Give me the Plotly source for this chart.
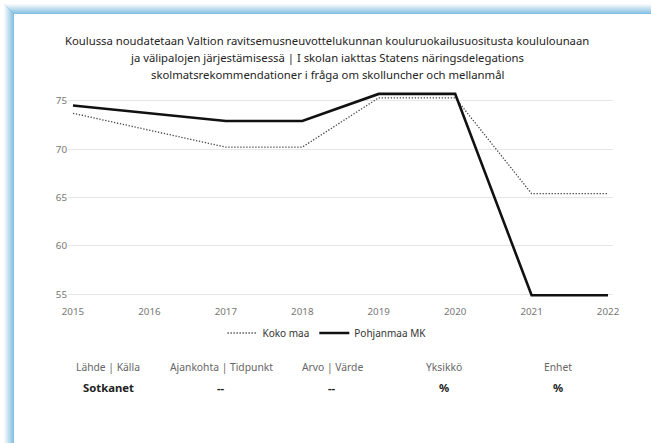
import plotly.graph_objects as go

years_koko = [2015, 2017, 2018, 2019, 2020, 2021, 2022]
koko_maa = [73.7, 70.2, 70.2, 75.3, 75.3, 65.4, 65.4]
years_pohj = [2015, 2017, 2018, 2019, 2020, 2021, 2022]
pohjanmaa = [74.5, 72.9, 72.9, 75.7, 75.7, 54.9, 54.9]

title_lines = [
    "Koulussa noudatetaan Valtion ravitsemusneuvottelukunnan kouluruokailusuositusta koululounaan",
    "ja välipalojen järjestämisessä | I skolan iakttas Statens näringsdelegations",
    "skolmatsrekommendationer i fråga om skolluncher och mellanmål",
]
info_headers = ["Lähde | Källa", "Ajankohta | Tidpunkt", "Arvo | Värde", "Yksikkö", "Enhet"]
info_values = ["Sotkanet", "--", "--", "%", "%"]
info_xpos = [108, 221, 332, 444, 558]

W, H = 651, 443
ML, MR, MT, MB = 68, 38, 88, 143
PW, PH = W - ML - MR, H - MT - MB
FONT = "Noto Sans, Open Sans, sans-serif"

def px(x):
    return (x - ML) / PW

def py(y):
    return (H - MB - y) / PH

fig = go.Figure()
fig.add_trace(go.Scatter(x=years_koko, y=koko_maa, name="Koko maa", mode="lines",
                         line=dict(color="#444444", width=1.3, dash="1.3px,1.7px")))
fig.add_trace(go.Scatter(x=years_pohj, y=pohjanmaa, name="Pohjanmaa MK", mode="lines",
                         line=dict(color="#111111", width=2.6)))

# card edge glow on left and top
shapes = []
for i in range(10):
    a = 0.08 + 0.09 * i
    col = "rgba(120,185,222,%.2f)" % a
    shapes.append(dict(type="rect", xref="paper", yref="paper", layer="below",
                       x0=px(4 + i), x1=px(5 + i), y0=py(4 + i), y1=py(H + 5),
                       fillcolor=col, line_width=0))
    shapes.append(dict(type="rect", xref="paper", yref="paper", layer="below",
                       x0=px(4 + i), x1=px(W + 5), y0=py(4 + i), y1=py(5 + i),
                       fillcolor=col, line_width=0))

annos = []
for i, t in enumerate(title_lines):
    annos.append(dict(text=t, x=px(327), y=py(40 + 17.5 * i), xref="paper", yref="paper",
                      xanchor="center", yanchor="middle", showarrow=False,
                      font=dict(size=11.3, color="#252423", family=FONT)))
for h, v, x in zip(info_headers, info_values, info_xpos):
    annos.append(dict(text=h, x=px(x), y=py(367), xref="paper", yref="paper",
                      xanchor="center", yanchor="middle", showarrow=False,
                      font=dict(size=10.3, color="#666666", family=FONT)))
    annos.append(dict(text="<b>" + v + "</b>", x=px(x), y=py(387), xref="paper", yref="paper",
                      xanchor="center", yanchor="middle", showarrow=False,
                      font=dict(size=11.3, color="#222222", family=FONT)))

fig.update_layout(
    width=W, height=H, margin=dict(l=ML, r=MR, t=MT, b=MB, autoexpand=False),
    paper_bgcolor="white", plot_bgcolor="white",
    font=dict(family=FONT, color="#333333"),
    xaxis=dict(range=[2014.935, 2022.065], dtick=1, showgrid=False, zeroline=False,
               showline=False, ticklabelstandoff=4,
               tickfont=dict(size=9.8, color="#777777")),
    yaxis=dict(range=[54.41, 76.31], tickvals=[55, 60, 65, 70, 75], showgrid=True,
               gridcolor="#E6E6E6", gridwidth=1, zeroline=False, showline=False,
               tickfont=dict(size=9.8, color="#777777")),
    legend=dict(orientation="h", xref="container", yref="container",
                x=327 / W, xanchor="center", y=1 - 333 / H, yanchor="middle",
                bgcolor="rgba(0,0,0,0)",
                font=dict(size=10, color="#333333"), itemwidth=30, tracegroupgap=0),
    shapes=shapes, annotations=annos, showlegend=True,
)

fig.write_html("out.html", config={"displayModeBar": False},
               post_script="document.body.style.margin='0px';")
